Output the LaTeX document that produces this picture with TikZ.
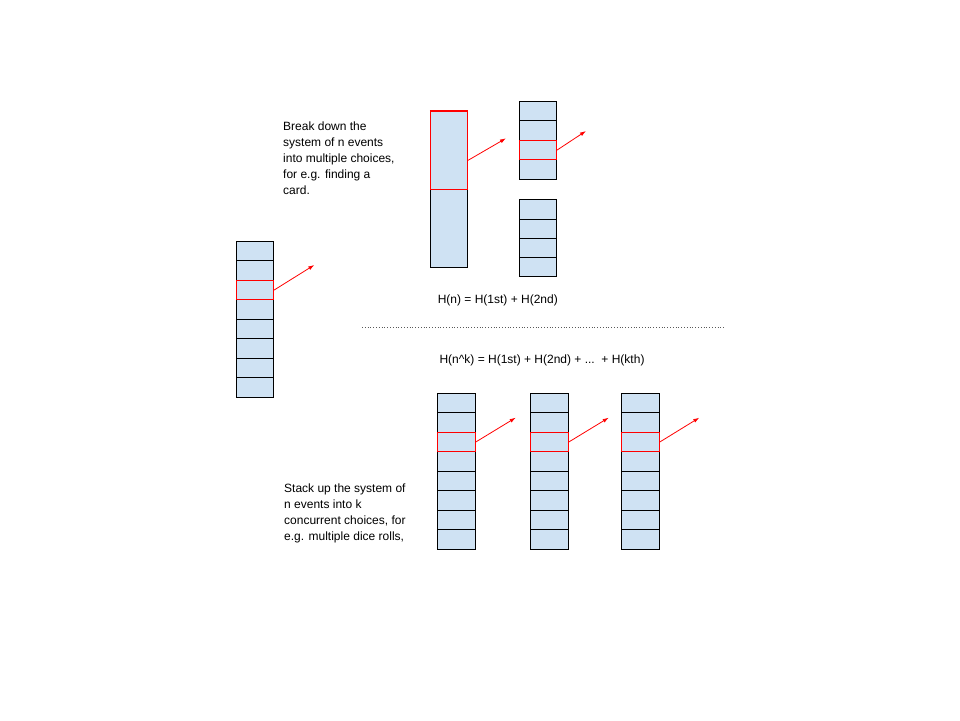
\documentclass[tikz,border=0pt]{standalone}
\usepackage{fontspec}
\setmainfont{Liberation Sans}
\usetikzlibrary{arrows.meta}
\definecolor{cellblue}{HTML}{CFE2F3}
\tikzset{
  cell/.style={draw, line width=0.8pt, fill=cellblue, minimum width=37.4pt,
    minimum height=19.5pt, inner sep=0pt},
  pick/.style={cell, draw=red},
  pointer/.style={red, line width=0.8pt, -{Latex[length=6pt,width=4pt]}},
  note/.style={align=left, inner sep=0pt, font=\fontsize{12}{16}\selectfont},
}
\begin{document}
\begin{tikzpicture} [x=1pt,y=-1pt,font=\fontsize{12}{15}\selectfont]
		\useasboundingbox (0,0) rectangle (960,720);
		% left column
		\node [cell] (l1) at (255,251.05) {};
		\node [cell] (l2) at (255,270.55) {};
		\node [cell] (l4) at (255,309.55) {};
		\node [cell] (l5) at (255,329.05) {};
		\node [cell] (l6) at (255,348.55) {};
		\node [cell] (l7) at (255,368.05) {};
		\node [cell] (l8) at (255,387.55) {};
		\node [pick] (l3) at (255,290.05) {};
		\coordinate (lp) at (314.3,265);
		\draw [pointer] (l3.east) -- (lp);
		% break down
		\node [cell, minimum height=78pt] (t2) at (449,228.3) {};
		\node [pick, minimum height=78pt] (t1) at (449,150.3) {};
		\draw [red, line width=1.6pt] (t1.north west) -- (t1.north east);
		\coordinate (tp) at (506,138.3);
		\draw [pointer] ([yshift=-10pt]t1.east) -- (tp);
		\node [cell] (s1) at (538,111.05) {};
		\node [cell] (s2) at (538,130.55) {};
		\node [cell] (s4) at (538,169.55) {};
		\node [pick] (s3) at (538,150.05) {};
		\coordinate (sp) at (586,131);
		\draw [pointer] (s3.east) -- (sp);
		\node [cell, minimum height=19.25pt] (u1) at (538,209.3) {};
		\node [cell, minimum height=19.25pt] (u2) at (538,228.6) {};
		\node [cell, minimum height=19.25pt] (u3) at (538,247.8) {};
		\node [cell, minimum height=19.25pt] (u4) at (538,267.1) {};
		\node [note, anchor=north west] (breaknote) at (283,121.5) {Break down the\\system of n events\\into multiple choices,\\for e.g. finding a\\card.};
		\node (sumtwo) at (497.8,300) {H(n) = H(1st) + H(2nd)};
		\draw [dotted, gray!70!black, line width=0.8pt] (362,327.5) -- (724,327.5);
		\node (sumk) at (542,360) {H(n\^{}k) = H(1st) + H(2nd) + ...\ \ + H(kth)};
		% stack up
		\node [cell, minimum width=38pt] (a1) at (456.3,403.05) {};
		\node [cell, minimum width=38pt] (a2) at (456.3,422.55) {};
		\node [cell, minimum width=38pt] (a4) at (456.3,461.55) {};
		\node [cell, minimum width=38pt] (a5) at (456.3,481.05) {};
		\node [cell, minimum width=38pt] (a6) at (456.3,500.55) {};
		\node [cell, minimum width=38pt] (a7) at (456.3,520.05) {};
		\node [cell, minimum width=38pt] (a8) at (456.3,539.55) {};
		\node [pick, minimum width=38pt] (a3) at (456.3,442.05) {};
		\node [cell, minimum width=38pt] (b1) at (549.3,403.05) {};
		\node [cell, minimum width=38pt] (b2) at (549.3,422.55) {};
		\node [cell, minimum width=38pt] (b4) at (549.3,461.55) {};
		\node [cell, minimum width=38pt] (b5) at (549.3,481.05) {};
		\node [cell, minimum width=38pt] (b6) at (549.3,500.55) {};
		\node [cell, minimum width=38pt] (b7) at (549.3,520.05) {};
		\node [cell, minimum width=38pt] (b8) at (549.3,539.55) {};
		\node [pick, minimum width=38pt] (b3) at (549.3,442.05) {};
		\node [cell, minimum width=38pt] (c1) at (640.3,403.05) {};
		\node [cell, minimum width=38pt] (c2) at (640.3,422.55) {};
		\node [cell, minimum width=38pt] (c4) at (640.3,461.55) {};
		\node [cell, minimum width=38pt] (c5) at (640.3,481.05) {};
		\node [cell, minimum width=38pt] (c6) at (640.3,500.55) {};
		\node [cell, minimum width=38pt] (c7) at (640.3,520.05) {};
		\node [cell, minimum width=38pt] (c8) at (640.3,539.55) {};
		\node [pick, minimum width=38pt] (c3) at (640.3,442.05) {};
		\coordinate (ap) at (515.7,417.7);
		\coordinate (bp) at (608.7,417.7);
		\coordinate (cp) at (699.3,417.7);
		\draw [pointer] (a3.east) -- (ap);
		\draw [pointer] (b3.east) -- (bp);
		\draw [pointer] (c3.east) -- (cp);
		\node [note, anchor=north west] (stacknote) at (284,483.5) {Stack up the system of\\n events into k\\concurrent choices, for\\e.g. multiple dice rolls,};
	\end{tikzpicture}
\end{document}
